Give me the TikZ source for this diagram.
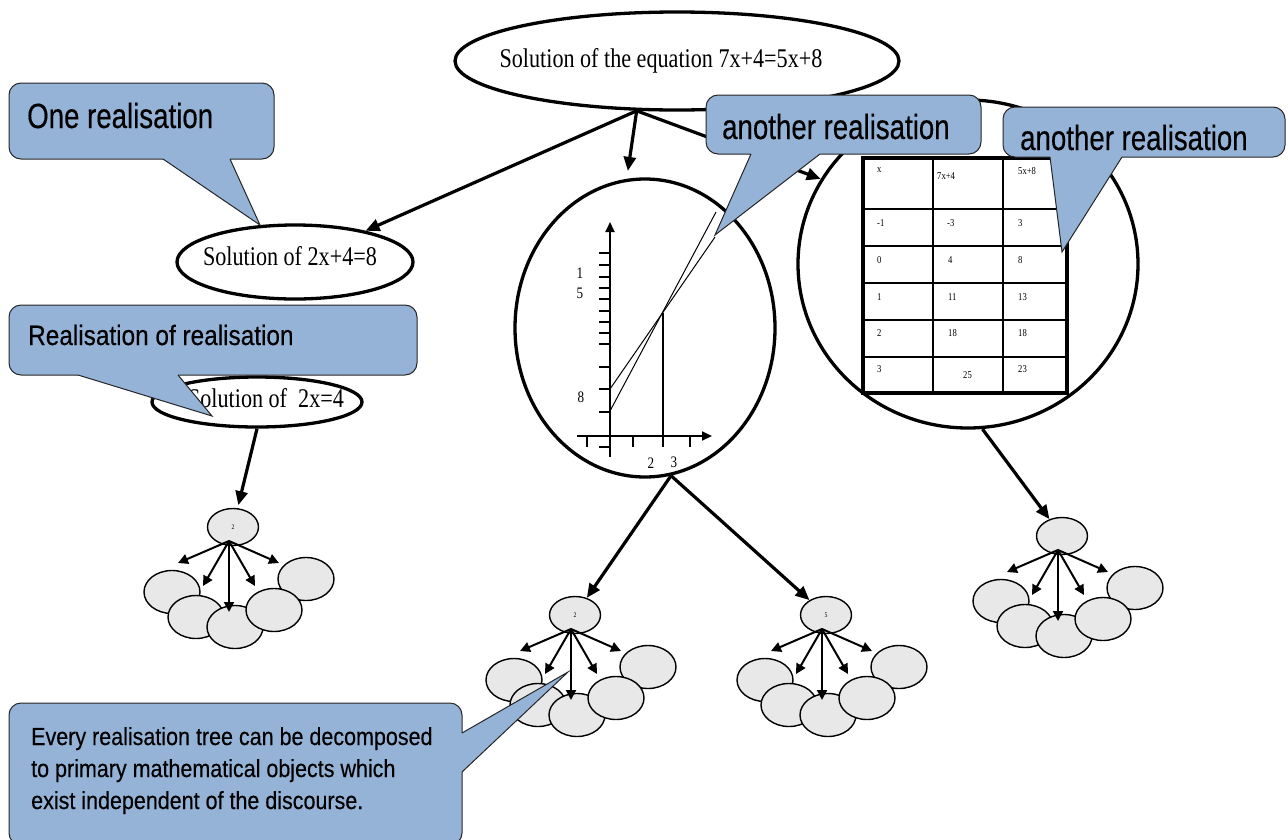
\documentclass[tikz,border=0pt]{standalone}
\usepackage{fontspec}
\setmainfont{Liberation Serif}[FakeStretch=0.82]
\newfontfamily\cfA{Liberation Sans}[FakeStretch=0.79,FakeBold=0.3]
\newfontfamily\cfB{Liberation Sans}[FakeStretch=0.87,FakeBold=0.3]
\usetikzlibrary{arrows.meta,shapes.geometric}
\definecolor{callblue}{HTML}{95B3D7}
\definecolor{leafgrey}{HTML}{E8E8E8}

\newcommand\leaftree[4]{%
  \begin{scope}[shift={(#2,#3)}]
    \node[leaf] (#1l1) at (-61,65) {};
    \node[leaf] (#1l2) at (-37,90) {};
    \node[leaf] (#1l3) at (2,100) {};
    \node[leaf] (#1l5) at (73,52) {};
    \node[leaf] (#1l4) at (41,83) {};
    \node[leaftop] (#1) at (0,0) {#4};
    \coordinate (#1o) at (-4,14);
    \coordinate (#1e1) at (-55,36);
    \coordinate (#1e2) at (-30,59);
    \coordinate (#1e3) at (-4,85);
    \coordinate (#1e4) at (22,59);
    \coordinate (#1e5) at (46,36);
    \foreach \k in {1,...,5} \draw[tarr] (#1o) -- (#1e\k);
  \end{scope}}

\begin{document}
\begin{tikzpicture}[x=1pt,y=-1pt,
  bigell/.style={ellipse, draw, line width=3.3pt, inner sep=0pt, fill=white},
  bigarr/.style={line width=3.2pt, -{Triangle[length=14pt,width=12pt]}},
  leaf/.style={ellipse, draw, line width=1.4pt, fill=leafgrey, minimum width=56pt, minimum height=43pt, inner sep=0pt},
  leaftop/.style={leaf, minimum width=51pt, minimum height=37pt, font=\fontsize{7}{8}\selectfont},
  tarr/.style={line width=2pt, -{Triangle[length=10pt,width=10pt]}},
  bigtxt/.style={font=\fontsize{27}{30}\selectfont, inner sep=0pt, anchor=base},
  tabtxt/.style={font=\fontsize{10.5}{12}\selectfont, inner sep=0pt, anchor=west},
  axtxt/.style={font=\fontsize{16}{18}\selectfont, inner sep=0pt},
  callbody/.style={fill=callblue, draw=black!85, line width=1pt, rounded corners=12pt},
  calledge/.style={draw=black!85, line width=1pt, line join=miter},
  ctA/.style={font=\cfA\fontsize{35}{40}\selectfont, anchor=base west, inner sep=0pt},
  ctB/.style={font=\cfB\fontsize{28}{32}\selectfont, anchor=base west, inner sep=0pt},
  ctC/.style={font=\cfB\fontsize{24.7}{30}\selectfont, anchor=base west, inner sep=0pt}
]
\useasboundingbox (0,0) rectangle (1288,839);

% main ellipses and circles
\node[bigell, minimum width=444pt, minimum height=98pt] (eq) at (677,61) {};
\node[bigtxt] (eqt) at (661,67) {Solution of the equation 7x+4=5x+8};
\node[bigell, minimum width=236pt, minimum height=74pt] (r1) at (295,262) {};
\node[bigtxt] (r1t) at (290,265) {Solution of 2x+4=8};
\node[bigell, minimum width=210pt, minimum height=50pt] (r2) at (257,402) {};
\node[bigtxt] (r2t) at (266,407) {Solution of~ 2x=4};
\node[bigell, minimum width=260pt, minimum height=298pt] (graphc) at (645,328) {};
\node[bigell, minimum width=340pt, minimum height=328pt] (tablec) at (968,264) {};

% table
\fill[white] (863,158) rectangle (1067,393);
\foreach \x in {933,1003} \draw[line width=1.5pt] (\x,158) -- (\x,393);
\foreach \y in {209,246,283,320,357} \draw[line width=1.5pt] (863,\y) -- (1067,\y);
\draw[line width=3.2pt] (863,158) rectangle (1067,393);
\foreach \t/\x/\y [count=\n] in {x/877/170, 7x+4/937/176, 5x+8/1018/171,
   -1/877/223, -3/947/223, 3/1018/223,
   0/877/260, 4/948/260, 8/1018/260,
   1/877/297, 11/948/297, 13/1018/297,
   2/877/333, 18/948/333, 18/1018/333,
   3/877/369, 25/963/375, 23/1018/369}
  \node[tabtxt] (tt\n) at (\x,\y) {\t};

% graph
\draw[line width=2pt, -{Triangle[length=10pt,width=9pt]}] (610,457) -- (610,222);
\draw[line width=2pt, -{Triangle[length=10pt,width=9pt]}] (577,436) -- (712,436);
\foreach \y in {253,265,277,288,299,311,322,333,344,367,389,412,447}
  \draw[line width=1.6pt] (599,\y) -- (610,\y);
\foreach \x in {587,633,663,690}
  \draw[line width=1.6pt] (\x,436) -- (\x,447);
\draw[line width=1pt] (610,411) -- (716,212);
\draw[line width=1pt] (610,389) -- (715,237);
\draw[line width=1.2pt] (663,313) -- (663,436);
\node[axtxt] (ga) at (580,273) {1};
\node[axtxt] (gb) at (580,293) {5};
\node[axtxt] (gc) at (581,397) {8};
\node[axtxt] (gd) at (651,463) {2};
\node[axtxt] (ge) at (674,462) {3};

% trees
\leaftree{ta}{233}{527}{2}
\leaftree{tb}{575}{615}{2}
\leaftree{tc}{826}{615}{5}
\leaftree{td}{1062}{536}{}

% connectors
\draw[bigarr] (eq.231) -- (r1);
\draw[bigarr, shorten >=8pt] (eq.231) -- (graphc.97);
\draw[bigarr] (eq.231) -- (tablec.150);
\draw[bigarr, shorten >=3pt] (r2.south) -- (ta);
\draw[bigarr] (graphc.280) -- (tb);
\draw[bigarr] (graphc.280) -- (tc);
\draw[bigarr] (tablec.275) -- (td);

% callouts
\path[callbody] (9,83) rectangle (274,159);
\fill[callblue] (163,157) -- (163,159) -- (260,225) -- (230,159) -- (230,157) -- cycle;
\draw[calledge] (163,159) -- (260,225) -- (230,159);
\node[ctA] (c1) at (27,128) {One realisation};

\path[callbody] (706,95) rectangle (981,154);
\fill[callblue] (751,152) -- (751,154) -- (715,235) -- (820,154) -- (820,152) -- cycle;
\draw[calledge] (751,154) -- (715,235) -- (820,154);
\node[ctA] (c2) at (722,139) {another realisation};

\path[callbody] (1003,107) rectangle (1285,157);
\fill[callblue] (1050,155) -- (1050,157) -- (1062,252) -- (1122,157) -- (1122,155) -- cycle;
\draw[calledge] (1050,157) -- (1062,252) -- (1122,157);
\node[ctA] (c3) at (1020,150) {another realisation};

\path[callbody] (9,305) rectangle (417,375);
\fill[callblue] (78,373) -- (78,375) -- (212,416) -- (178,375) -- (178,373) -- cycle;
\draw[calledge] (78,375) -- (212,416) -- (178,375);
\node[ctB] (c4) at (28,345) {Realisation of realisation};

\path[callbody] (9,703) rectangle (462,845);
\fill[callblue] (460,733) -- (462,733) -- (568,672) -- (462,772) -- (460,772) -- cycle;
\draw[calledge] (462,733) -- (568,672) -- (462,772);
\node[ctC] (c5a) at (31,745) {Every realisation tree can be decomposed};
\node[ctC] (c5b) at (31,777) {to primary mathematical objects which};
\node[ctC] (c5c) at (31,809) {exist independent of the discourse.};
\end{tikzpicture}
\end{document}
